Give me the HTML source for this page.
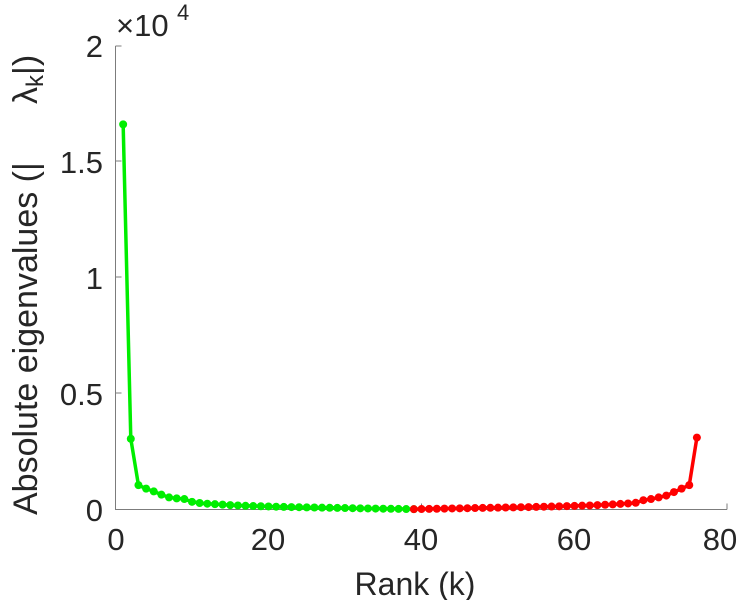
<!DOCTYPE html>
<html><head><style>body{margin:0;background:#fff}svg{display:block}text{font-family:"Liberation Sans",sans-serif;fill:#262626}</style></head>
<body>
<svg id="s" width="746" height="600" xmlns="http://www.w3.org/2000/svg">
<rect width="746" height="600" fill="#fff"/>
<g stroke="#262626" stroke-width="1" fill="none" opacity="0.6">
<path d="M115.5 46 V509.5 H727"/>
<path d="M115.5 46 h6 M115.5 161 h6 M115.5 277 h6 M115.5 393 h6 M268.5 509.5 v-6 M421.5 509.5 v-6 M574.5 509.5 v-6 M727 509.5 v-6"/>
</g>
<g font-size="31" text-anchor="end">
<text x="103" y="521">0</text><text x="103" y="405">0.5</text><text x="103" y="289">1</text><text x="103" y="173">1.5</text><text x="103" y="57">2</text>
</g>
<g font-size="31" text-anchor="middle">
<text x="116" y="550">0</text><text x="268" y="550">20</text><text x="421" y="550">40</text><text x="574" y="550">60</text><text x="720" y="550">80</text>
</g>
<text x="415" y="595" font-size="32" text-anchor="middle">Rank (k)</text>
<text x="116" y="36" font-size="31">×10</text><text x="177" y="20" font-size="22">4</text>
<text transform="translate(37,515) rotate(-90)" font-size="34">Absolute eigenvalues (|</text>
<text transform="translate(37,104) rotate(-90)" font-size="34">λ<tspan font-size="24" dy="6">k</tspan><tspan dy="-6">|)</tspan></text>
<g id="d"></g>
</svg>
<script>
var g=[16600,3050,1050,900,780,640,520,480,450,330,280,250,230,210,190,175,160,150,140,130,120,112,105,98,92,86,80,74,68,62,56,50,45,40,35,30,25,20,15];
var r=[15,20,26,32,38,44,50,56,62,68,74,80,86,92,98,105,112,120,128,136,145,155,165,175,190,205,220,240,260,290,400,450,520,600,750,900,1050,3100];
function X(k){return 115.5+k*7.65}function Y(v){return 509.5-v*0.0232}
var d=document.getElementById('d'),ns='http://www.w3.org/2000/svg';
function draw(arr,start,col){var p=[];for(var i=0;i<arr.length;i++){var x=X(start+i),y=Y(arr[i]);p.push(x+','+y);var c=document.createElementNS(ns,'circle');c.setAttribute('cx',x);c.setAttribute('cy',y);c.setAttribute('r',4);c.setAttribute('fill',col);d.appendChild(c);}
var l=document.createElementNS(ns,'polyline');l.setAttribute('points',p.join(' '));l.setAttribute('fill','none');l.setAttribute('stroke',col);l.setAttribute('stroke-width',3.5);d.insertBefore(l,d.firstChild);}
draw(g,1,'#00ee00');draw(r,39,'#ff0000');
</script>
</body></html>
